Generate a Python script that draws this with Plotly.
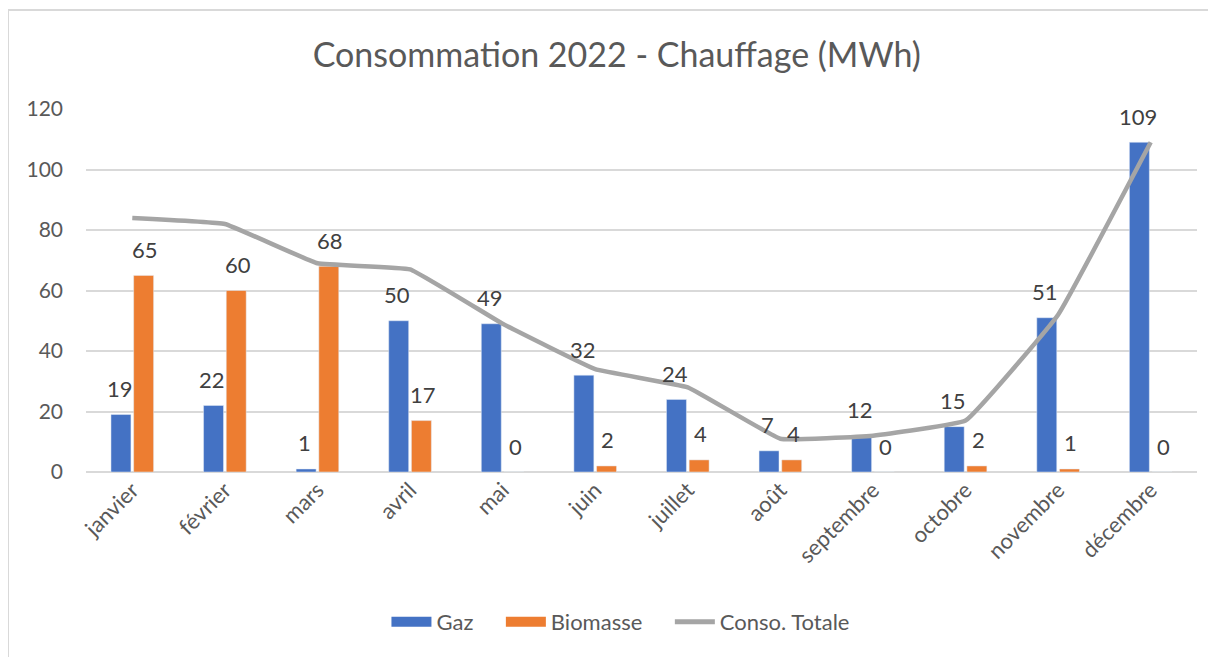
import plotly.graph_objects as go

months = ["janvier", "février", "mars", "avril", "mai", "juin", "juillet",
          "août", "septembre", "octobre", "novembre", "décembre"]
gaz = [19, 22, 1, 50, 49, 32, 24, 7, 12, 15, 51, 109]
biomasse = [65, 60, 68, 17, 0, 2, 4, 4, 0, 2, 1, 0]
total = [84, 82, 69, 67, 49, 34, 28, 11, 12, 17, 52, 109]
legend_names = ["Gaz", "Biomasse", "Conso. Totale"]

FONT = "Lato"
TXT = "#595959"
BLUE = "#4472C4"
ORANGE = "#ED7D31"
GREY = "#A5A5A5"
PAD = "\u00a0" * 4

fig = go.Figure()
fig.add_trace(go.Bar(x=months, y=gaz, name=legend_names[0], marker_color=BLUE,
                     legendgroup="gaz", showlegend=False))
fig.add_trace(go.Bar(x=months, y=biomasse, name=legend_names[1], marker_color=ORANGE,
                     legendgroup="bio", showlegend=False))
fig.add_trace(go.Scatter(x=months, y=total, name=legend_names[2], mode="lines",
                         legendgroup="tot", showlegend=False,
                         line=dict(color=GREY, width=4.5, shape="spline", smoothing=0.25)))
# legend entries (wide swatches like the original)
fig.add_trace(go.Scatter(x=[None], y=[None], mode="lines", name=legend_names[0] + PAD,
                         legendgroup="gaz", line=dict(color=BLUE, width=14)))
fig.add_trace(go.Scatter(x=[None], y=[None], mode="lines", name=legend_names[1] + PAD,
                         legendgroup="bio", line=dict(color=ORANGE, width=14)))
fig.add_trace(go.Scatter(x=[None], y=[None], mode="lines", name=legend_names[2],
                         legendgroup="tot", line=dict(color=GREY, width=5)))

annos = []
for m, g, b in zip(months, gaz, biomasse):
    annos.append(dict(x=m, y=g, text=str(g), showarrow=False, xref="x", yref="y",
                      xshift=-12.7, yshift=26, font=dict(family=FONT, size=22, color="#404040")))
    annos.append(dict(x=m, y=b, text=str(b), showarrow=False, xref="x", yref="y",
                      xshift=12.7, yshift=26, font=dict(family=FONT, size=22, color="#404040")))

fig.update_layout(
    width=1208, height=649,
    margin=dict(l=78, r=19, t=101, b=185),
    paper_bgcolor="white", plot_bgcolor="white",
    font=dict(family=FONT, color=TXT),
    title=dict(text="Consommation 2022 - Chauffage (MWh)", x=0.504, xanchor="center",
               y=0.927, yanchor="middle", font=dict(family=FONT, size=34, color=TXT)),
    barmode="group", bargap=0.51, bargroupgap=0.12,
    showlegend=True,
    legend=dict(orientation="h", x=0.4815, xanchor="center", y=-0.413, yanchor="middle",
                font=dict(family=FONT, size=22, color=TXT), itemwidth=40,
                traceorder="normal"),
    annotations=annos,
    xaxis=dict(tickangle=-45, tickfont=dict(family=FONT, size=22, color=TXT),
               showgrid=False, showline=False, ticks=""),
    yaxis=dict(range=[0, 120], dtick=20, tickfont=dict(family=FONT, size=21, color=TXT),
               showgrid=True, gridcolor="#D9D9D9", gridwidth=1.5,
               zeroline=True, zerolinecolor="#D9D9D9", zerolinewidth=1.5,
               ticklabelstandoff=22, showline=False),
    shapes=[
        dict(type="line", xref="paper", yref="paper", x0=-0.0702, x1=1.2, y0=1.2727, y1=1.2727,
             line=dict(color="#D9D9D9", width=2)),
        dict(type="line", xref="paper", yref="paper", x0=-0.0702, x1=-0.0702, y0=1.2727, y1=-0.6,
             line=dict(color="#D9D9D9", width=2)),
    ],
)

fig.write_html("out.html")
